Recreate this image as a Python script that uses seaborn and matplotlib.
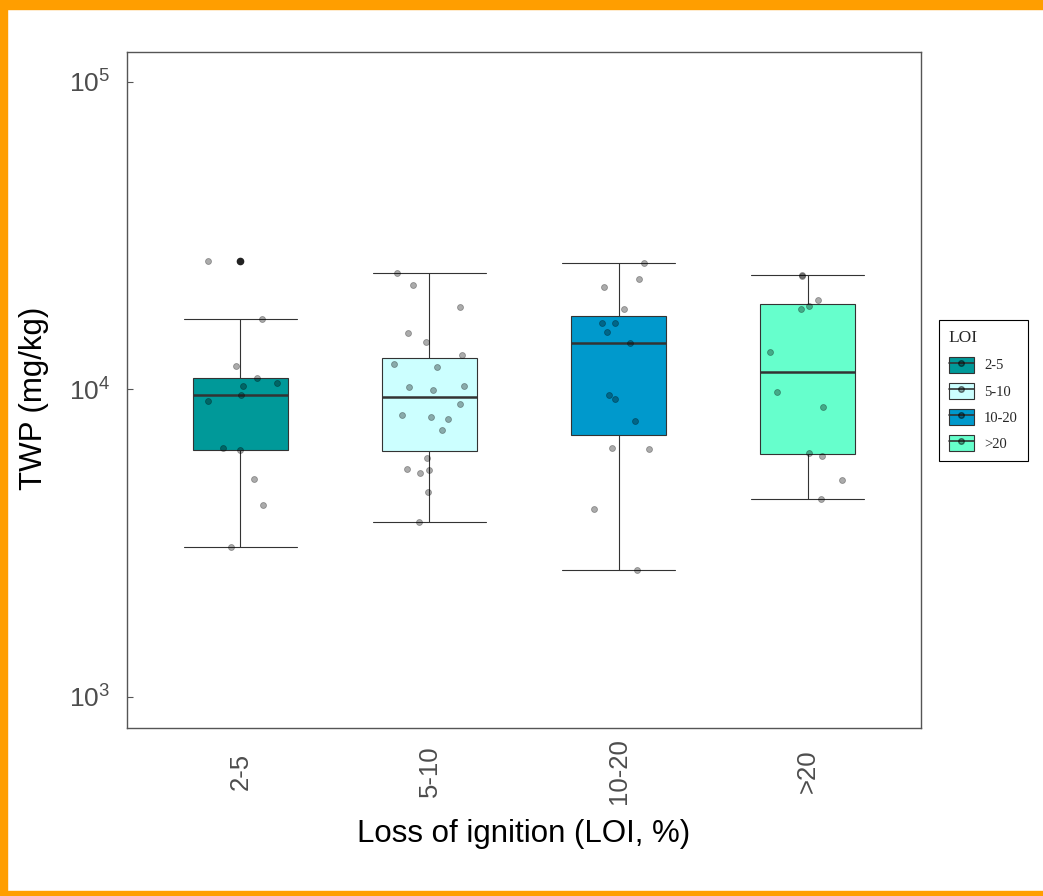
import numpy as np
import pandas as pd
import seaborn as sns
import matplotlib.pyplot as plt
from matplotlib.patches import Patch, Rectangle
from matplotlib.lines import Line2D
from matplotlib.legend_handler import HandlerTuple
from matplotlib.ticker import LogLocator, NullLocator

# LOI classes and box colours
groups = ['2-5', '5-10', '10-20', '>20']
colors = ['#009999', '#CCFFFF', '#0099CC', '#66FFCC']

# TWP (mg/kg) per LOI class
twp_2_5 = [26200, 16900, 11900, 10900, 10500, 10300, 9580, 9200, 6430, 6340,
           5100, 4200, 3070]
twp_5_10 = [24000, 21800, 18600, 15300, 14300, 12900, 12100, 11800, 10300,
            10200, 9930, 8940, 8230, 8110, 7990, 7360, 5970, 5500, 5480, 5340,
            4630, 3700]
twp_10_20 = [25700, 22900, 21600, 18200, 16500, 16400, 15400, 14200, 9560,
             9280, 7870, 6430, 6390, 4080, 2580]
twp_gt20 = [23600, 23400, 19500, 18700, 18200, 13200, 9780, 8740, 6200, 6060,
            5060, 4390]

series = [twp_2_5, twp_5_10, twp_10_20, twp_gt20]
df = pd.DataFrame({
    'LOI': np.repeat(groups, [len(s) for s in series]),
    'TWP': np.concatenate(series),
})

sns.set_style('white')
plt.rcParams['font.family'] = ['Liberation Sans', 'DejaVu Sans']

fig, ax = plt.subplots(figsize=(10.43, 8.96), dpi=100)
fig.subplots_adjust(left=0.1218, right=0.883, bottom=0.1875, top=0.942)

sns.boxplot(data=df, x='LOI', y='TWP', hue='LOI', order=groups,
            hue_order=groups, palette=dict(zip(groups, colors)),
            saturation=1, width=0.5, whis=1.5, linecolor='#333333',
            linewidth=0.8, fliersize=4.5, log_scale=True, legend=False,
            medianprops=dict(linewidth=1.8, color='#333333'),
            flierprops=dict(marker='o', markerfacecolor='#222222',
                            markeredgecolor='#222222'),
            capwidths=0.6, ax=ax)

np.random.seed(7)
sns.stripplot(data=df, x='LOI', y='TWP', order=groups, jitter=0.2,
              color='black', alpha=0.33, size=4.3, linewidth=0.6,
              edgecolor='black', zorder=3, log_scale=True, ax=ax)

ax.set_xlim(-0.6, 3.6)
ax.set_ylim(10 ** 2.899, 10 ** 5.0976)
ax.yaxis.set_major_locator(LogLocator(base=10, numticks=10))
ax.yaxis.set_minor_locator(NullLocator())

for sp in ax.spines.values():
    sp.set_visible(True)
    sp.set_color('#555555')
    sp.set_linewidth(1)

ax.tick_params(axis='y', direction='in', length=4, width=0.8, color='#555555',
               labelsize=19, labelcolor='#4d4d4d', pad=12, left=True)
ax.tick_params(axis='x', length=0, labelsize=18.5, labelcolor='#4d4d4d', pad=31)
for lab in ax.get_xticklabels():
    lab.set_rotation(90)
    lab.set_va('center')

ax.set_xlabel('Loss of ignition (LOI, %)', fontsize=22.5, color='black')
ax.set_ylabel('TWP (mg/kg)', fontsize=22.5, color='black')
ax.xaxis.set_label_coords(0.5, -0.134)
ax.yaxis.set_label_coords(-0.098, 0.488)

handles = [
    (Patch(facecolor=c, edgecolor='#333333', linewidth=0.8),
     Line2D([], [], color='#333333', lw=1.2, marker='o', markersize=4,
            markerfacecolor=(0, 0, 0, 0.35), markeredgecolor=(0, 0, 0, 0.5)))
    for c in colors
]
leg = ax.legend(handles, groups, title='LOI', loc='center left',
                bbox_to_anchor=(0.9, 0.564), bbox_transform=fig.transFigure,
                borderaxespad=0,
                handler_map={tuple: HandlerTuple(ndivide=1, pad=0)},
                fancybox=False, edgecolor='black', framealpha=1,
                prop=dict(family='Liberation Serif', size=10.5),
                title_fontproperties=dict(family='Liberation Serif', size=12.5),
                handlelength=1.7, handleheight=1.3, labelspacing=0.7,
                handletextpad=0.7, borderpad=0.7, alignment='left')
leg.get_frame().set_linewidth(0.8)

# orange frame of the screenshot
orange = '#FF9E00'
for r in [(0, 0, 7 / 1043, 1), (0, 1 - 9 / 896, 1, 9 / 896), (0, 0, 1, 5 / 896)]:
    fig.patches.append(Rectangle(r[:2], r[2], r[3], transform=fig.transFigure,
                                 color=orange, zorder=10))

fig.savefig('out.png', dpi=100)
